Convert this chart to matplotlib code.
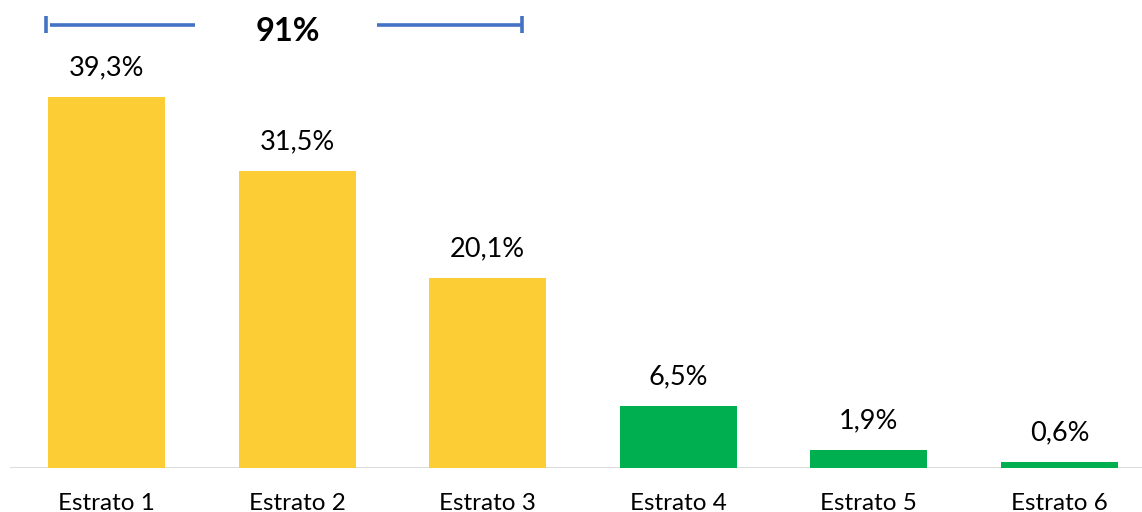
import matplotlib.pyplot as plt

categories = ["Estrato 1", "Estrato 2", "Estrato 3", "Estrato 4", "Estrato 5", "Estrato 6"]
values = [39.3, 31.5, 20.1, 6.5, 1.9, 0.6]
groups = ["top", "top", "top", "rest", "rest", "rest"]

colors = {"top": "#FDCD35", "rest": "#00B050"}
plt.rcParams["font.family"] = ["Lato", "DejaVu Sans"]


def fmt(v):
    return f"{v:.1f}%".replace(".", ",")


def plot_chart():
    fig = plt.figure(figsize=(11.42, 5.12), dpi=100)
    ax = fig.add_axes([0, 0.0869, 1, 0.9131])

    x = list(range(len(categories)))
    ax.bar(x, values, width=0.614, color=[colors[g] for g in groups], zorder=2)

    for xi, v in zip(x, values):
        ax.annotate(fmt(v), (xi, v), xytext=(0, 15.5), textcoords="offset points",
                    ha="center", va="baseline", fontsize=19.5, color="#000000")

    ax.set_xlim(-0.559, 5.433)
    ax.set_ylim(0, 49.6)
    ax.axhline(0, xmin=(-0.5 + 0.559) / (5.433 + 0.559), xmax=1,
               color="#D9D9D9", lw=1.3, zorder=1)

    # bracket over the first three strata
    top_total = sum(v for v, g in zip(values, groups) if g == "top")
    by = 46.9
    blue = "#4472C4"
    ax.plot([-0.297, 0.464], [by, by], color=blue, lw=2.6, solid_capstyle="butt")
    ax.plot([1.419, 2.18], [by, by], color=blue, lw=2.6, solid_capstyle="butt")
    ax.plot([-0.317, -0.317], [46.1, 47.9], color=blue, lw=2.6, solid_capstyle="butt")
    ax.plot([2.18, 2.18], [46.1, 47.9], color=blue, lw=2.6, solid_capstyle="butt")
    ax.text(0.952, 46.3, f"{top_total:.0f}%", ha="center", va="center",
            fontsize=23.5, fontweight="bold", color="#000000")

    for xi, c in zip(x, categories):
        ax.text(xi, -3.8, c, ha="center", va="center", fontsize=17.5,
                color="#000000", clip_on=False)

    ax.axis("off")
    fig.savefig("out.png", dpi=100)


if __name__ == "__main__":
    plot_chart()
